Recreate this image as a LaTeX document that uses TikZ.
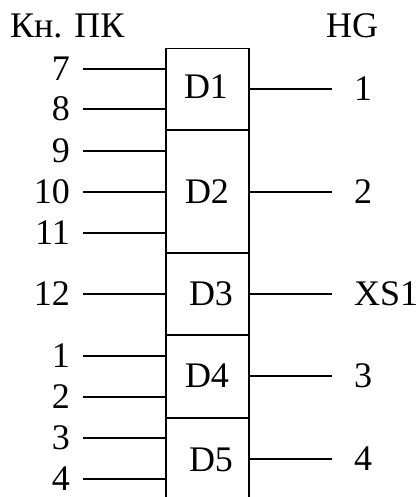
\documentclass[tikz,border=0pt]{standalone}
\usepackage{fontspec}
\setmainfont{Liberation Serif}
\begin{document}
\begin{tikzpicture}[x=1pt,y=-1pt,
  lbl/.style={inner sep=0pt, font=\fontsize{36}{42}\selectfont},
  pinline/.style={line width=1.6pt},
  outline/.style={line width=1.2pt},
  boxline/.style={line width=1.1pt}]
\useasboundingbox (0,0) rectangle (417,497);
% titles
\node[lbl, anchor=base west] (kn) at (10,38) {Кн. ПК};
\node[lbl, anchor=base west] (hg) at (326,38) {HG};
% box outline (open at bottom)
\coordinate (btl) at (166,48.5);
\coordinate (btr) at (249,48.5);
\coordinate (bbl) at (166,497);
\coordinate (bbr) at (249,497);
\draw[boxline] (bbl) -- (btl) -- (btr) -- (bbr);
\foreach \yy/\nm in {130/s1,253/s2,335/s3,418/s4}{
  \coordinate (\nm l) at (166,\yy);
  \coordinate (\nm r) at (249,\yy);
  \draw[boxline] (\nm l) -- (\nm r);
}
% cell labels
\node[lbl, anchor=base] (D1) at (206,98.5) {D1};
\node[lbl, anchor=base] (D2) at (207,203) {D2};
\node[lbl, anchor=base] (D3) at (211,305) {D3};
\node[lbl, anchor=base] (D4) at (207,387) {D4};
\node[lbl, anchor=base] (D5) at (211,471) {D5};
% left pins
\foreach \yy/\t/\nm in {69/7/a,109/8/b,151/9/c,192/10/d,233/11/e,294/12/f,356/1/g,397/2/h,438/3/i,479/4/j}{
  \node[lbl, anchor=base east] (L\nm) at (70,\yy+11.5) {\t};
  \coordinate (P\nm) at (83,\yy);
  \coordinate (Q\nm) at (166,\yy);
  \draw[pinline] (P\nm) -- (Q\nm);
}
% right outputs
\foreach \yy/\t/\nm in {89/1/a,192/2/b,294/XS1/c,376/3/d,459/4/e}{
  \node[lbl, anchor=base west] (R\nm) at (354,\yy+11.5) {\t};
  \coordinate (O\nm) at (249,\yy);
  \coordinate (E\nm) at (332,\yy);
  \draw[outline] (O\nm) -- (E\nm);
}
\end{tikzpicture}
\end{document}
